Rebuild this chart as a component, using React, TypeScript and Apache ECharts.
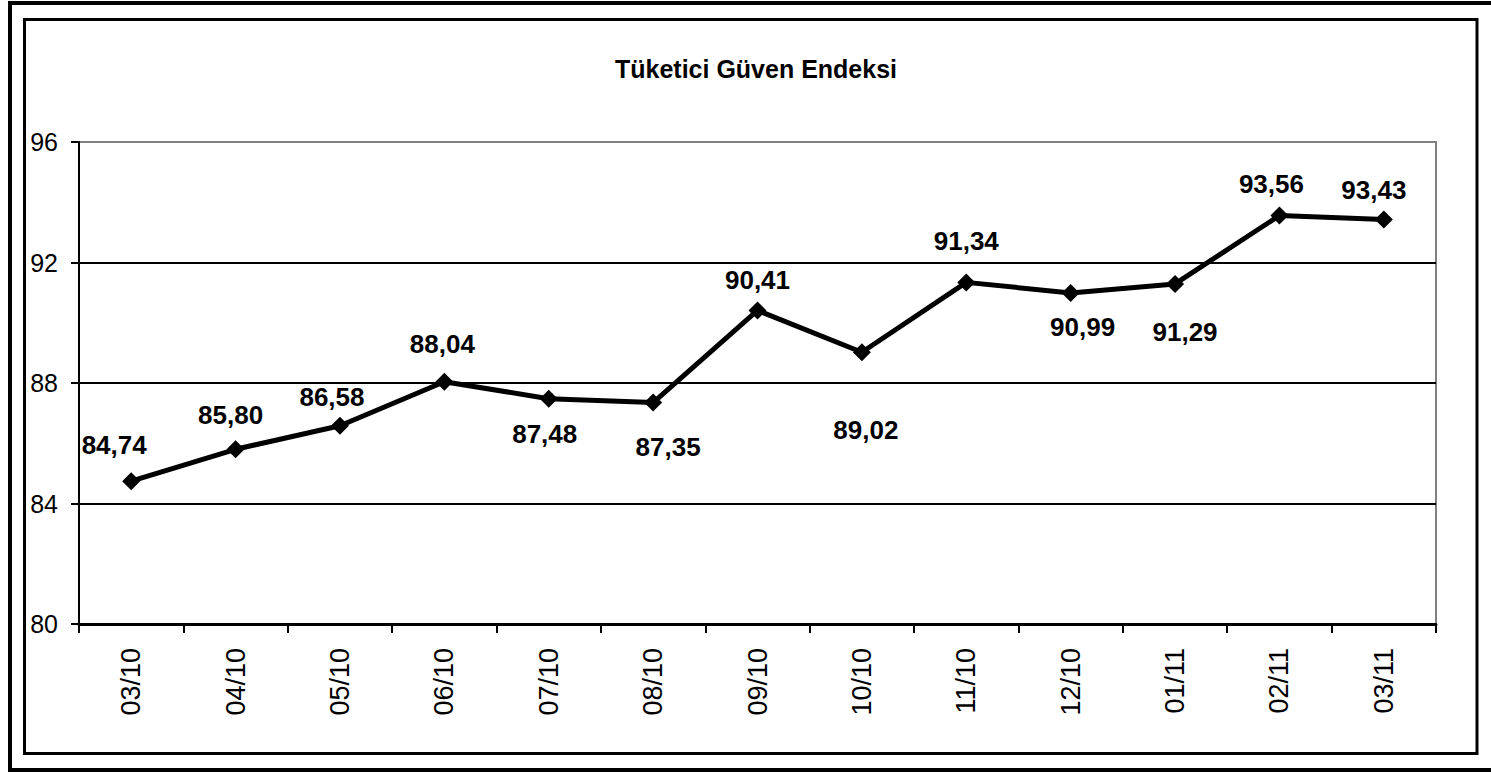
import React, { useEffect, useRef } from "react";
import * as echarts from "echarts";

const categories = ["03/10", "04/10", "05/10", "06/10", "07/10", "08/10", "09/10", "10/10", "11/10", "12/10", "01/11", "02/11", "03/11"];
const values = [84.74, 85.8, 86.58, 88.04, 87.48, 87.35, 90.41, 89.02, 91.34, 90.99, 91.29, 93.56, 93.43];
const labelOffsets: [number, number][] = [
  [-17, -36], [-5, -34], [-8, -29], [-2, -38], [-4, 35], [15, 44], [0, -30],
  [4, 78], [0, -41], [12, 34], [10, 48], [-8, -32], [-10, -29],
];
const yMin = 80;
const yMax = 96;
const yStep = 4;
const titleText = "Tüketici Güven Endeksi";

const FONT = "'Liberation Sans', Arial, Helvetica, sans-serif";

export default function App() {
  const ref = useRef<HTMLDivElement>(null);
  useEffect(() => {
    if (!ref.current) return;
    const chart = echarts.init(ref.current, null, { renderer: "svg" });
    chart.setOption({
      animation: false,
      backgroundColor: "#ffffff",
      textStyle: { fontFamily: FONT },
      title: {
        text: titleText,
        left: 751,
        top: 51,
        textAlign: "center",
        textStyle: { fontFamily: FONT, fontSize: 25, fontWeight: "bold", color: "#000" },
      },
      graphic: [
        {
          type: "rect",
          shape: { x: 10, y: 3, width: 1500, height: 767 },
          style: { fill: "none", stroke: "#000", lineWidth: 4 },
          silent: true,
        },
        {
          type: "rect",
          shape: { x: 24.5, y: 19.5, width: 1452.5, height: 734 },
          style: { fill: "none", stroke: "#000", lineWidth: 3 },
          silent: true,
        },
      ],
      grid: {
        left: 79,
        top: 142,
        right: 55,
        bottom: 148,
        show: true,
        borderColor: "#808080",
        borderWidth: 2,
        backgroundColor: "transparent",
      },
      xAxis: {
        type: "category",
        data: categories,
        boundaryGap: true,
        axisLine: { show: true, lineStyle: { color: "#000", width: 3 } },
        axisTick: { show: true, inside: false, length: 9, alignWithLabel: false, lineStyle: { color: "#000", width: 2 } },
        axisLabel: { rotate: 90, margin: 24, fontSize: 27, color: "#000", fontFamily: FONT, interval: 0 },
        splitLine: { show: false },
      },
      yAxis: {
        type: "value",
        min: yMin,
        max: yMax,
        interval: yStep,
        axisLine: { show: true, lineStyle: { color: "#000", width: 2 } },
        axisTick: { show: true, inside: false, length: 8, lineStyle: { color: "#000", width: 2 } },
        axisLabel: { margin: 21, fontSize: 25, color: "#000", fontFamily: FONT },
        splitLine: { show: true, lineStyle: { color: ["#000", "#000", "#000", "#000", "#808080"], width: 2 } },
      },
      series: [
        {
          type: "line",
          data: values.map((v, i) => ({
            value: v,
            label: { offset: labelOffsets[i] },
          })),
          symbol: "diamond",
          symbolSize: 18,
          lineStyle: { color: "#000", width: 5 },
          itemStyle: { color: "#000" },
          label: {
            show: true,
            position: "inside",
            fontSize: 26,
            fontWeight: "bold",
            color: "#000",
            fontFamily: FONT,
            formatter: (p: any) => Number(p.value).toFixed(2).replace(".", ","),
          },
          emphasis: { disabled: true },
          z: 5,
        },
      ],
    });
    return () => chart.dispose();
  }, []);
  return (
    <div
      ref={ref}
      style={{ position: "absolute", left: 0, top: 0, width: 1491, height: 772, background: "#fff" }}
    />
  );
}
